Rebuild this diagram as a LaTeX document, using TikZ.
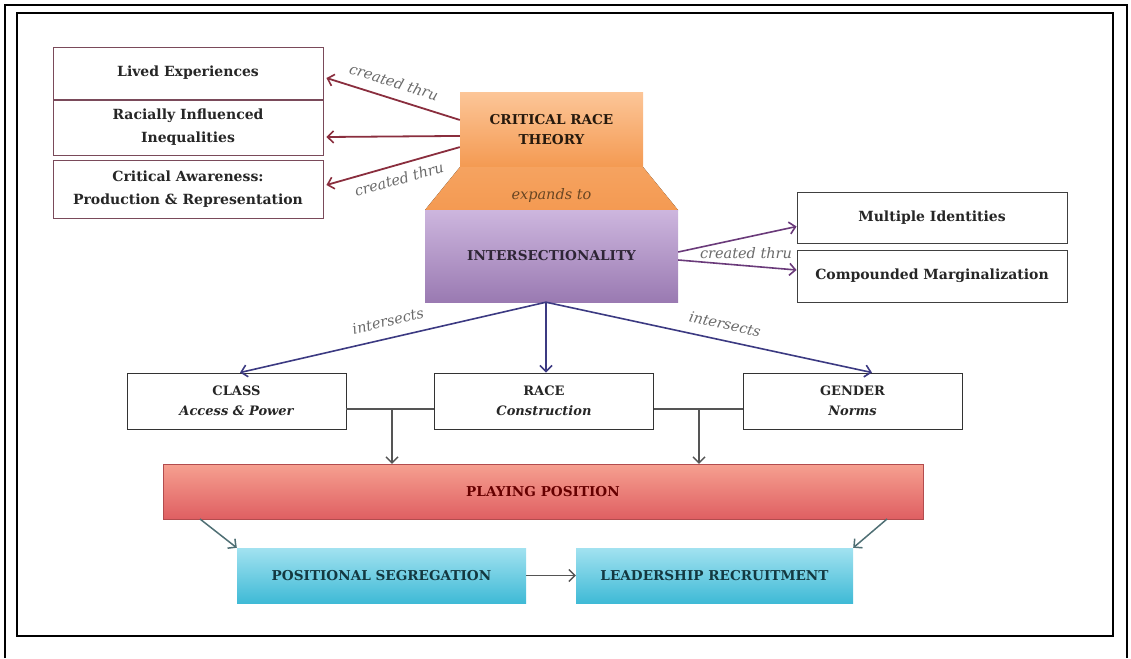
\documentclass[tikz,border=0pt]{standalone}
\usepackage{fontspec}
\setmainfont{DejaVu Serif}
\newcommand{\subfnt}{\fontsize{13}{20}\selectfont\bfseries\itshape}
\usetikzlibrary{arrows.meta,calc}
\definecolor{lboxline}{HTML}{7A4A5A}
\definecolor{crtarrow}{HTML}{8A2E3E}
\definecolor{intarrow}{HTML}{3C3A82}
\definecolor{purarrow}{HTML}{6A3A7A}
\definecolor{greyarrow}{HTML}{555555}
\definecolor{tealarrow}{HTML}{4F6F74}
\definecolor{labelgrey}{HTML}{6A6A6A}
\definecolor{orangetop}{HTML}{FCC597}
\definecolor{orangebot}{HTML}{F49A52}
\definecolor{purpletop}{HTML}{CDB6DE}
\definecolor{purplebot}{HTML}{9A7AB2}
\definecolor{redtop}{HTML}{F6A090}
\definecolor{redbot}{HTML}{DF5F62}
\definecolor{cyantop}{HTML}{A2E2F0}
\definecolor{cyanbot}{HTML}{3FBAD6}
\tikzset{
  boxtext/.style={font=\fontsize{14}{23}\selectfont\bfseries, text=black!85, align=center, inner sep=0pt},
  leftbox/.style={boxtext, draw=lboxline, line width=0.9pt, fill=white, minimum width=270pt},
  rightbox/.style={boxtext, draw=black!75, line width=0.9pt, fill=white, minimum width=270pt},
  midbox/.style={font=\fontsize{13}{20}\selectfont\bfseries, text=black!85, align=center, inner sep=0pt,
                 draw=black!80, line width=0.9pt, fill=white, minimum width=219pt, minimum height=56pt},
  bigtext/.style={font=\fontsize{13.6}{20}\selectfont\bfseries, align=center, inner sep=0pt},
  tip/.style={-{Straight Barb[length=6pt,width=12pt,line width=1.6pt]}},
  crtline/.style={tip, draw=crtarrow, line width=1.8pt},
  intline/.style={tip, draw=intarrow, line width=1.6pt},
  purline/.style={tip, draw=purarrow, line width=1.6pt},
  greyline/.style={draw=greyarrow, line width=1.2pt},
  greytip/.style={greyline, -{Straight Barb[length=6pt,width=12pt,line width=1.4pt]}},
  tealline/.style={draw=tealarrow, line width=1.5pt, -{Straight Barb[length=6pt,width=12pt,line width=1.5pt]}},
  conlabel/.style={font=\fontsize{14.5}{16}\selectfont\itshape, text=labelgrey, inner sep=0pt}
}
\begin{document}
\begin{tikzpicture}[x=1pt,y=-1pt]
\useasboundingbox (0,0) rectangle (1131,658);
% frames
\draw[line width=1.6pt] (5,658) -- (5,5) -- (1127,5) -- (1127,658);
\draw[line width=1.8pt] (17,13) rectangle (1113,636);

% left boxes
\node[leftbox, minimum height=52pt] (lived) at (188,73) {Lived Experiences};
\node[leftbox, minimum height=55pt] (racial) at (188,127.5) {Racially Influenced\\Inequalities};
\node[leftbox, minimum height=58pt] (aware) at (188,189) {Critical Awareness:\\Production \& Representation};

% CRT
\node[bigtext, text=black!80!brown, minimum width=183pt, minimum height=74pt,
      top color=orangetop, bottom color=orangebot] (crt) at (551.5,130) {CRITICAL RACE\\THEORY};
\fill[top color=orangebot!80!orangetop, bottom color=orangebot]
  (crt.south west) -- (425,210) -- (678,210) -- (crt.south east) -- cycle;
\node[conlabel, text=black!45!brown] (expands) at (551.5,195) {expands to};

% Intersectionality
\node[bigtext, text=black!70!purplebot, minimum width=253pt, minimum height=92pt,
      top color=purpletop, bottom color=purplebot] (inter) at (551.5,256) {INTERSECTIONALITY};

% right boxes
\node[rightbox, minimum height=51pt] (multi) at (932,217.5) {Multiple Identities};
\node[rightbox, minimum height=52pt] (comp) at (932,276) {Compounded Marginalization};

% middle boxes
\node[midbox] (class) at (236.5,401) {CLASS\\{\subfnt Access \& Power}};
\node[midbox] (race) at (544,401) {RACE\\{\subfnt Construction}};
\node[midbox] (gender) at (852.5,401) {GENDER\\{\subfnt Norms}};

% playing position
\node[bigtext, text=black!60!red, minimum width=760pt, minimum height=55pt,
      top color=redtop, bottom color=redbot, draw=redbot!80!black, line width=0.4pt] (play) at (543,491.5) {PLAYING POSITION};

% bottom boxes
\node[bigtext, text=black!70!cyanbot, minimum width=289pt, minimum height=55pt,
      top color=cyantop, bottom color=cyanbot] (seg) at (381.5,575.5) {POSITIONAL SEGREGATION};
\node[bigtext, text=black!70!cyanbot, minimum width=277pt, minimum height=55pt,
      top color=cyantop, bottom color=cyanbot] (lead) at (714.5,575.5) {LEADERSHIP RECRUITMENT};

% CRT arrows
\draw[crtline] ($(crt.north west)!0.365!(crt.south west)$) -- ($(lived.east)+(3,5)$);
\draw[crtline] ($(crt.north west)!0.58!(crt.south west)$) -- ($(racial.east)+(3,9.5)$);
\draw[crtline] ($(crt.north west)!0.73!(crt.south west)$) -- ($(aware.east)+(3,-4)$);
\node[conlabel, rotate=-17.3] (lab1) at (394,82) {created thru};
\node[conlabel, rotate=16] (lab3) at (399,179) {created thru};

% intersectionality to right boxes
\node[conlabel] (lab4) at (746,253) {created thru};
\draw[purline] ($(inter.east)+(0,-4)$) -- ($(multi.west)+(0,9)$);
\draw[purline] ($(inter.east)+(0,4)$) -- ($(comp.west)+(0,-6)$);

% intersects arrows
\coordinate (isrc) at ($(inter.south)+(-5.5,0)$);
\draw[intline] (isrc) -- ($(class.north)+(3.5,0)$);
\draw[intline] (isrc) -- (isrc |- race.north);
\draw[intline] (isrc) -- ($(gender.north)+(19.5,0)$);
\node[conlabel, rotate=12.9] (lab5) at (388,321) {intersects};
\node[conlabel, rotate=-12.5] (lab6) at (725,324) {intersects};

% class/race/gender to playing position
\coordinate (j1) at (392,409);
\coordinate (j2) at (699,409);
\draw[greyline] (class.east |- j1) -- (race.west |- j1);
\draw[greyline] (race.east |- j2) -- (gender.west |- j2);
\draw[greytip] (j1) -- (j1 |- play.north);
\draw[greytip] (j2) -- (j2 |- play.north);

% playing position to bottom boxes
\draw[tealline] (200,519) -- (seg.north west);
\draw[tealline] (887,519) -- (lead.north east);
\draw[greytip] (seg.east) -- (lead.west);
\end{tikzpicture}
\end{document}
